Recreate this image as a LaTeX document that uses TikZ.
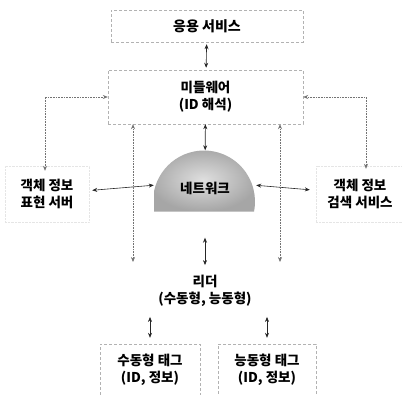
\documentclass[tikz,border=0pt]{standalone}
\usepackage{fontspec}
\newfontfamily\kr{Noto Sans CJK KR}
\usetikzlibrary{arrows.meta}
\tikzset{
  lbl/.style={align=center, inner sep=0pt, font=\kr\bfseries\fontsize{13.5}{17}\selectfont},
  box/.style={lbl, draw=gray!60, densely dashed, thin},
  side/.style={lbl, draw=gray!20, densely dotted, thin, minimum width=84pt, minimum height=56pt},
  link/.style={{Stealth[length=5pt,width=4pt]}-{Stealth[length=5pt,width=4pt]}, semithick, black!85},
  faint/.style={link, black!55, densely dotted},
}
\begin{document}
\begin{tikzpicture}[x=1pt,y=-1pt]
  \useasboundingbox (0,0) rectangle (402,394);
  % boxes
  \node (app) [box, minimum width=192pt, minimum height=32pt,
    font=\kr\bfseries\fontsize{14}{17}\selectfont] at (207,26) {응용 서비스};
  \node (mw) [box, minimum width=195pt, minimum height=54pt] at (205.5,97) {미들웨어\\(ID 해석)};
  \node (repsrv) [side] at (47,194) {객체 정보\\표현 서버};
  \node (srch) [side, minimum width=88pt] at (360,194) {객체 정보\\검색 서비스};
  % network dome
  \node (net) [minimum width=102pt, minimum height=61pt, inner sep=0pt,
    path picture={\shade[inner color=gray!25, outer color=gray!70]
      (path picture bounding box.south west)
      arc[start angle=191.3, end angle=-11.3, radius=51pt] -- cycle;}]
    at (205,181) {};
  \node (netlbl) [lbl] at (205,188) {네트워크};
  \node (reader) [lbl] at (205,291) {리더\\(수동형, 능동형)};
  \node (ptag) [box, minimum width=100pt, minimum height=52pt] at (150,370) {수동형 태그\\(ID, 정보)};
  \node (atag) [box, minimum width=98pt, minimum height=52pt] at (267,370) {능동형 태그\\(ID, 정보)};
  \coordinate (lend) at (133,262);
  \coordinate (rend) at (280,262);
  % connectors
  \draw[link, shorten <=2pt, shorten >=2pt] (app) -- (mw);
  \draw[link] (mw) -- (net);
  \draw[faint] (mw.west) -| ([shift={(-2pt,-5pt)}]repsrv.north);
  \draw[faint] (mw.east) -| ([shift={(6pt,-3pt)}]srch.north);
  \draw[link, shorten <=3pt] (repsrv) -- (net);
  \draw[link, shorten >=6pt] (net) -- (srch);
  \draw[faint] (lend |- mw.south) -- (lend);
  \draw[faint] (rend |- mw.south) -- (rend);
  \draw[link, shorten <=26pt, shorten >=10pt] (net.south) -- (reader.north);
  \draw[link, shorten <=10pt, shorten >=6pt] (ptag.north |- reader.south) -- (ptag.north);
  \draw[link, shorten <=10pt, shorten >=6pt] (atag.north |- reader.south) -- (atag.north);
\end{tikzpicture}
\end{document}
